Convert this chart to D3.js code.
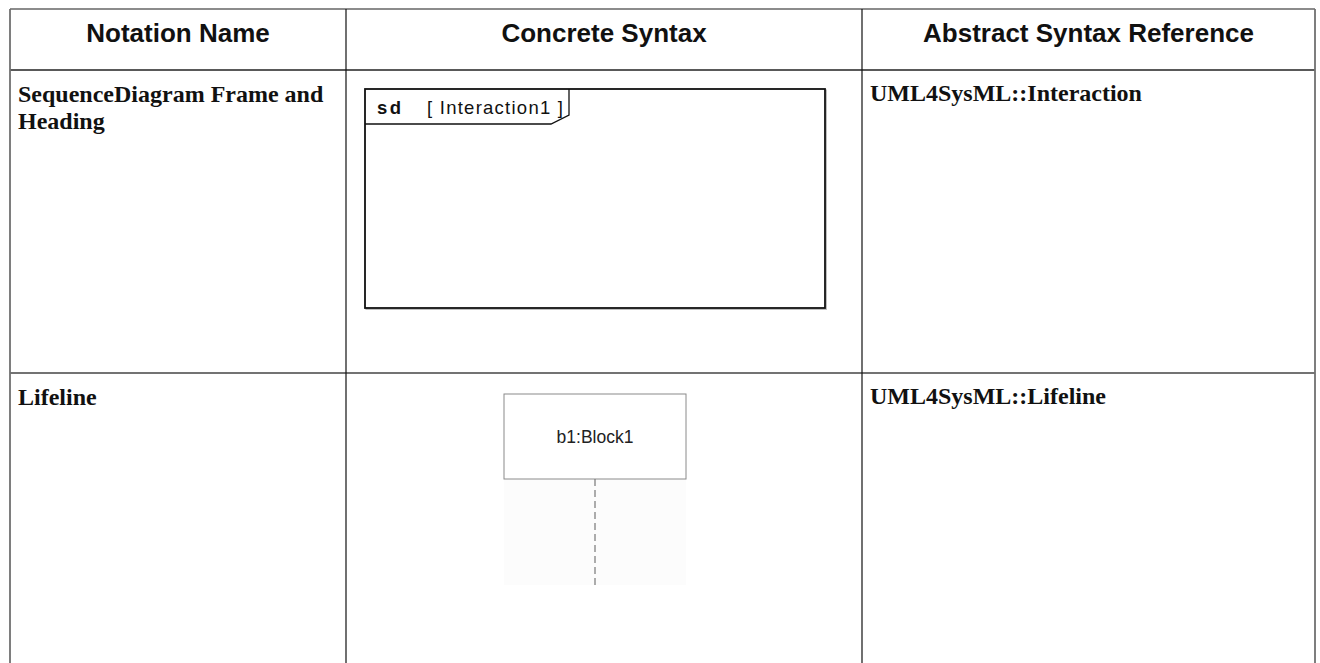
<!DOCTYPE html>
<html>
<head>
<meta charset="utf-8">
<script src="https://cdn.jsdelivr.net/npm/d3@7"></script>
<style>
  html, body { margin: 0; padding: 0; background: #fff; }
  svg { display: block; }
</style>
</head>
<body>
<svg id="chart" width="1320" height="663"></svg>
<script>
// ---- data ----
const columns = ["Notation Name", "Concrete Syntax", "Abstract Syntax Reference"];
const notationNames = [["SequenceDiagram Frame and", "Heading"], ["Lifeline"]];
const abstractRefs = ["UML4SysML::Interaction", "UML4SysML::Lifeline"];
const frameKeyword = "sd";
const frameName = "[ Interaction1 ]";
const lifelineLabel = "b1:Block1";

// ---- layout ----
const W = 1320, H = 663;
const colEdges = [10, 346, 862, 1315];
const rowEdges = [9, 70, 373, 663];

const svg = d3.select("#chart");
const x = d3.scaleOrdinal().domain(d3.range(columns.length + 1)).range(colEdges);
const y = d3.scaleOrdinal().domain(d3.range(rowEdges.length)).range(rowEdges);

// background
svg.append("rect").attr("width", W).attr("height", H).attr("fill", "#fff");

// grid lines
const g = svg.append("g");
g.append("line").attr("x1", x(0)).attr("x2", x(3)).attr("y1", y(0)).attr("y2", y(0))
  .attr("stroke", "#666").attr("stroke-width", 1.6);
[1, 2].forEach(i => {
  g.append("line").attr("x1", x(0)).attr("x2", x(3)).attr("y1", y(i)).attr("y2", y(i))
    .attr("stroke", i === 1 ? "#222" : "#444").attr("stroke-width", 1.3);
});
[0, 1, 2, 3].forEach(i => {
  const outer = (i === 0 || i === 3);
  g.append("line").attr("x1", x(i)).attr("x2", x(i)).attr("y1", y(0)).attr("y2", H)
    .attr("stroke", outer ? "#707070" : "#111").attr("stroke-width", outer ? 1.8 : 1.2);
});

// headers
svg.selectAll("text.hdr").data(columns).join("text")
  .attr("class", "hdr")
  .attr("x", (d, i) => (x(i) + x(i + 1)) / 2)
  .attr("y", 42)
  .attr("text-anchor", "middle")
  .attr("font-family", "'Liberation Sans', Arial, sans-serif")
  .attr("font-weight", "bold")
  .attr("font-size", 26)
  .attr("fill", "#111")
  .text(d => d);

// notation names
const serif = "'Liberation Serif', 'Times New Roman', serif";
notationNames.forEach((lines, r) => {
  const t = svg.append("text")
    .attr("font-family", serif).attr("font-weight", "bold").attr("font-size", 24).attr("fill", "#111");
  lines.forEach((ln, k) => {
    t.append("tspan").attr("x", x(0) + 8).attr("y", y(r + 1) + 32 + k * 27).text(ln);
  });
});

// abstract refs
svg.selectAll("text.ref").data(abstractRefs).join("text")
  .attr("class", "ref")
  .attr("x", x(2) + 8)
  .attr("y", (d, i) => y(i + 1) + 31)
  .attr("font-family", serif).attr("font-weight", "bold").attr("font-size", 24).attr("fill", "#111")
  .text(d => d);

// ---- concrete syntax: sequence diagram frame ----
const fr = { x0: 365, y0: 89, x1: 825, y1: 308, tabR: 569, tabB: 124, notch: 18, notchY: 9 };
const fg = svg.append("g");
fg.append("rect").attr("x", fr.x0 + 1.2).attr("y", fr.y0 + 1.2)
  .attr("width", fr.x1 - fr.x0).attr("height", fr.y1 - fr.y0)
  .attr("fill", "none").attr("stroke", "#bbb").attr("stroke-width", 1.5);
fg.append("rect").attr("x", fr.x0).attr("y", fr.y0)
  .attr("width", fr.x1 - fr.x0).attr("height", fr.y1 - fr.y0)
  .attr("fill", "#fff").attr("stroke", "#111").attr("stroke-width", 1.8);
const tab = d3.path();
tab.moveTo(fr.x0, fr.tabB);
tab.lineTo(fr.tabR - fr.notch, fr.tabB);
tab.lineTo(fr.tabR, fr.tabB - fr.notchY);
tab.lineTo(fr.tabR, fr.y0);
fg.append("path").attr("d", tab.toString()).attr("fill", "none")
  .attr("stroke", "#111").attr("stroke-width", 1.3);
fg.append("text").attr("x", 377).attr("y", 114)
  .attr("font-family", "'Liberation Sans', Arial, sans-serif").attr("font-weight", "bold")
  .attr("font-size", 18.5).attr("letter-spacing", 2.5).attr("fill", "#111")
  .text(frameKeyword);
fg.append("text").attr("x", 427).attr("y", 114)
  .attr("font-family", "'Liberation Sans', Arial, sans-serif")
  .attr("font-size", 18.5).attr("fill", "#111")
  .attr("textLength", 136).attr("lengthAdjust", "spacing")
  .text(frameName);

// ---- concrete syntax: lifeline ----
const lb = { x0: 504, y0: 394, x1: 686, y1: 479, yEnd: 585 };
const lg = svg.append("g");
lg.append("rect").attr("x", lb.x0).attr("y", lb.y1).attr("width", lb.x1 - lb.x0)
  .attr("height", lb.yEnd - lb.y1).attr("fill", "#fcfcfc");
lg.append("rect").attr("x", lb.x0).attr("y", lb.y0).attr("width", lb.x1 - lb.x0)
  .attr("height", lb.y1 - lb.y0).attr("fill", "#fff").attr("stroke", "#8a8a8a").attr("stroke-width", 1);
lg.append("text").attr("x", (lb.x0 + lb.x1) / 2).attr("y", 443)
  .attr("text-anchor", "middle")
  .attr("font-family", "'Liberation Sans', Arial, sans-serif")
  .attr("font-size", 17.5).attr("fill", "#222")
  .text(lifelineLabel);
lg.append("line").attr("x1", (lb.x0 + lb.x1) / 2).attr("x2", (lb.x0 + lb.x1) / 2)
  .attr("y1", lb.y1).attr("y2", lb.yEnd)
  .attr("stroke", "#777").attr("stroke-width", 1.2).attr("stroke-dasharray", "7,4");
</script>
</body>
</html>
